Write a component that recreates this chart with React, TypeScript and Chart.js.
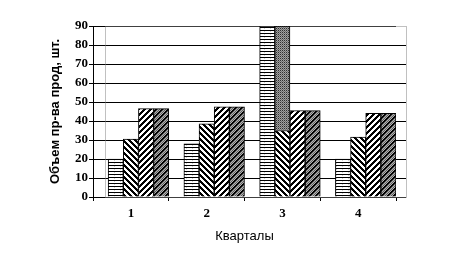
import React, { useEffect, useRef } from "react";
import { Chart, registerables } from "chart.js";
Chart.register(...registerables);

const quarters = ["1", "2", "3", "4"];
const padSeries = [null, null, null, null];
const series1 = [20, 28, 90, 20];
const series2 = [30.5, 38.5, 35, 31.5];
const series2Overflow = [null, null, 55, null];
const series3 = [46.5, 47.5, 45.5, 44];
const series4 = [46.5, 47.5, 45.5, 44];
const yMin = 0;
const yMax = 90;
const yStep = 10;
const xTitle = "Кварталы";
const yTitle = "Объем пр-ва прод, шт.";

function makePattern(size: number, fn: (x: number, y: number) => string): CanvasPattern | string {
  const c = document.createElement("canvas");
  c.width = size;
  c.height = size;
  const g = c.getContext("2d");
  if (!g) return "#fff";
  for (let y = 0; y < size; y++) {
    for (let x = 0; x < size; x++) {
      g.fillStyle = fn(x, y);
      g.fillRect(x, y, 1, 1);
    }
  }
  return g.createPattern(c, "repeat") || "#fff";
}

const framePlugin = {
  id: "frame",
  beforeDatasetsDraw(chart: any) {
    const { ctx, chartArea } = chart;
    const { left, top, right, bottom } = chartArea;
    const y = chart.scales.y;
    ctx.save();
    ctx.lineWidth = 1;
    ctx.strokeStyle = "#000";
    for (let v = yMin; v < yMax; v += yStep) {
      const py = Math.round(y.getPixelForValue(v)) + 0.5;
      ctx.beginPath();
      ctx.moveTo(right, py);
      ctx.lineTo(right + 10, py);
      ctx.stroke();
    }
    ctx.strokeStyle = "#808080";
    ctx.setLineDash([1, 1]);
    ctx.strokeRect(Math.round(left + 12) + 0.5, Math.round(top) + 0.5, right + 10 - (left + 12), bottom - top);
    ctx.restore();
  },
};

export default function App() {
  const ref = useRef<HTMLCanvasElement | null>(null);
  useEffect(() => {
    if (!ref.current) return;
    const pStripes = makePattern(6, (x, y) => (y % 3 === 0 ? "#000" : (x === 0 && y % 3 === 1 ? "#d0d0d0" : "#fff")));
    const pBack = makePattern(6, (x, y) => (((x - y) % 6 + 6) % 6 < 3 ? "#000" : "#fff"));
    const pFwd = makePattern(6, (x, y) => ((x + y) % 6 < 3 ? "#000" : "#fff"));
    const pDark = makePattern(6, (x, y) => ((x + y) % 6 < 2 ? "#000" : (x + y) % 2 === 0 ? "#606060" : "#b0b0b0"));
    const pCheck = makePattern(4, (x, y) => ((x % 2 === 0 && y % 2 === 0) ? "#303030" : (x + y) % 2 === 0 ? "#707070" : "#a0a0a0"));
    const tickFont = { family: "'Liberation Serif', serif", size: 13, weight: "bold" as const };
    const chart = new Chart(ref.current, {
      type: "bar",
      data: {
        labels: quarters,
        datasets: [
          { label: "pad", data: padSeries, stack: "s0", backgroundColor: "#fff" },
          { label: "A", data: series1, stack: "s1", backgroundColor: pStripes as any, borderColor: "#000", borderWidth: 1 },
          { label: "B", data: series2, stack: "s2", backgroundColor: pBack as any, borderColor: "#000", borderWidth: 1 },
          { label: "B+", data: series2Overflow, stack: "s2", backgroundColor: pCheck as any, borderColor: "#000", borderWidth: 1 },
          { label: "C", data: series3, stack: "s3", backgroundColor: pFwd as any, borderColor: "#000", borderWidth: 1 },
          { label: "D", data: series4, stack: "s4", backgroundColor: pDark as any, borderColor: "#000", borderWidth: 1 },
        ],
      },
      options: {
        animation: false,
        responsive: true,
        maintainAspectRatio: false,
        layout: { padding: { top: 26, right: 80, left: 0, bottom: 0 } },
        plugins: { legend: { display: false }, tooltip: { enabled: false } },
        datasets: { bar: { categoryPercentage: 1, barPercentage: 1 } },
        scales: {
          x: {
            grid: { display: true, drawOnChartArea: false, drawTicks: true, tickLength: 4, color: "#000" },
            border: { display: true, color: "#000", width: 1 },
            ticks: { color: "#000", font: tickFont, padding: 5, maxRotation: 0 },
            title: {
              display: true,
              text: xTitle,
              color: "#000",
              font: { family: "'Liberation Sans', Arial, sans-serif", size: 13 },
              padding: { top: 0, bottom: 23 },
            },
            afterFit: (s: any) => { s.height = 70; },
          },
          y: {
            stacked: true,
            min: yMin,
            max: yMax,
            ticks: { stepSize: yStep, color: "#000", font: tickFont, padding: 1 },
            grid: { color: "#000", tickLength: 4, drawTicks: true },
            border: { display: true, color: "#000", width: 1 },
            title: {
              display: true,
              text: yTitle,
              color: "#000",
              font: { family: "'Liberation Sans', Arial, sans-serif", size: 13, weight: "bold" },
              padding: { top: 48, bottom: 0 },
            },
            afterFit: (s: any) => { s.width = 93; },
          },
        },
      },
      plugins: [framePlugin],
    });
    return () => chart.destroy();
  }, []);
  return (
    <div style={{ position: "fixed", left: 0, top: 0, width: 476, height: 267, background: "#fff" }}>
      <canvas ref={ref} />
    </div>
  );
}
